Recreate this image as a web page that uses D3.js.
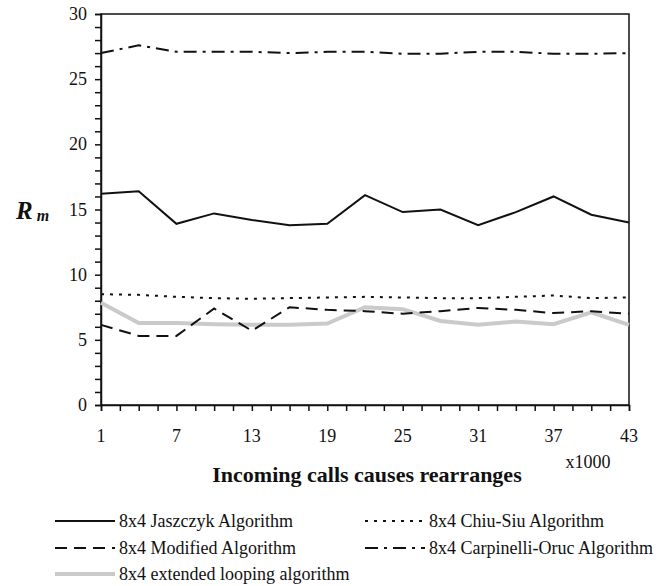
<!DOCTYPE html>
<html>
<head>
<meta charset="utf-8">
<script src="https://cdn.jsdelivr.net/npm/d3@7"></script>
<style>
  body { margin: 0; background: #fff; }
  svg text { font-family: "Liberation Serif", "Times New Roman", serif; fill: #111; }
</style>
</head>
<body>
<svg id="chart" width="662" height="586"></svg>
<script>
// data (x in thousands)
var xValues = [1, 4, 7, 10, 13, 16, 19, 22, 25, 28, 31, 34, 37, 40, 43];
var jaszczyk = [16.2, 16.4, 13.9, 14.7, 14.2, 13.8, 13.9, 16.1, 14.8, 15.0, 13.8, 14.8, 16.0, 14.6, 14.0];
var chiuSiu = [8.5, 8.45, 8.3, 8.2, 8.15, 8.2, 8.25, 8.3, 8.25, 8.2, 8.2, 8.3, 8.4, 8.2, 8.25];
var modified = [6.15, 5.3, 5.3, 7.4, 5.7, 7.5, 7.3, 7.2, 7.0, 7.2, 7.45, 7.3, 7.05, 7.2, 7.0];
var carpinelli = [27.0, 27.6, 27.1, 27.1, 27.1, 27.0, 27.1, 27.1, 26.95, 26.95, 27.1, 27.1, 26.95, 26.95, 27.0];
var extended = [7.85, 6.3, 6.3, 6.2, 6.15, 6.15, 6.25, 7.5, 7.35, 6.45, 6.15, 6.4, 6.2, 7.1, 6.15];

var xTickLabels = [1, 7, 13, 19, 25, 31, 37, 43];
var yTickLabels = [0, 5, 10, 15, 20, 25, 30];

var series = [
    { name: "8x4 Jaszczyk Algorithm", values: jaszczyk, color: "#111", width: 2, dash: null },
    { name: "8x4 Chiu-Siu Algorithm", values: chiuSiu, color: "#111", width: 2, dash: "3,6" },
    { name: "8x4 Modified Algorithm", values: modified, color: "#111", width: 2, dash: "12,7" },
    { name: "8x4 Carpinelli-Oruc Algorithm", values: carpinelli, color: "#111", width: 2, dash: "13,6,3,6" },
    { name: "8x4 extended looping algorithm", values: extended, color: "#cacaca", width: 4, dash: null }
];
// draw order: grey underneath
var drawOrder = [4, 1, 3, 2, 0];

var plotLeft = 101, plotRight = 629, plotTop = 14, plotBottom = 405;

var svg = d3.select("#chart");

var x = d3.scaleLinear().domain([1, 43]).range([plotLeft, plotRight]);
var y = d3.scaleLinear().domain([0, 30]).range([plotBottom, plotTop]);

// frame
svg.append("rect")
    .attr("x", plotLeft).attr("y", plotTop)
    .attr("width", plotRight - plotLeft).attr("height", plotBottom - plotTop)
    .attr("fill", "none").attr("stroke", "#111").attr("stroke-width", 1.5);

// y axis ticks (every unit, pointing left)
var yAxis = d3.axisLeft(y).tickValues(d3.range(0, 31, 1)).tickSize(6).tickFormat("");
svg.append("g").attr("transform", "translate(" + plotLeft + ",0)").call(yAxis)
    .call(function (g) { g.select(".domain").attr("stroke", "#111").attr("stroke-width", 1.5); })
    .call(function (g) { g.selectAll(".tick line").attr("stroke", "#111").attr("stroke-width", 1.5); });

// x axis ticks (every 1.5, pointing down)
var xAxis = d3.axisBottom(x).tickValues(d3.range(1, 43.01, 1.5)).tickSize(6).tickFormat("");
svg.append("g").attr("transform", "translate(0," + plotBottom + ")").call(xAxis)
    .call(function (g) { g.select(".domain").attr("stroke", "#111").attr("stroke-width", 1.5); })
    .call(function (g) { g.selectAll(".tick line").attr("stroke", "#111").attr("stroke-width", 1.5); });

// tick labels
svg.append("g").selectAll("text").data(yTickLabels).enter().append("text")
    .attr("text-anchor", "end")
    .attr("font-size", 18)
    .attr("x", plotLeft - 14)
    .attr("y", function (d) { return y(d) + 6; })
    .text(function (d) { return d; });

svg.append("g").selectAll("text").data(xTickLabels).enter().append("text")
    .attr("text-anchor", "middle")
    .attr("font-size", 18)
    .attr("x", function (d) { return x(d); })
    .attr("y", 442)
    .text(function (d) { return d; });

// axis titles
var rm = svg.append("text").attr("x", 16).attr("y", 219)
    .attr("font-weight", "bold").attr("font-style", "italic");
rm.append("tspan").attr("font-size", 25).text("R");
rm.append("tspan").attr("font-size", 16).attr("dx", 4).attr("dy", 2).text("m");

svg.append("text").attr("font-size", 18).attr("text-anchor", "middle")
    .attr("x", 588).attr("y", 468).text("x1000");

svg.append("text").attr("font-size", 22).attr("font-weight", "bold").attr("text-anchor", "middle")
    .attr("x", 367).attr("y", 482)
    .text("Incoming calls causes rearranges");

// lines
var line = d3.line()
    .x(function (d, i) { return x(xValues[i]); })
    .y(function (d) { return y(d); });

drawOrder.forEach(function (k) {
    var s = series[k];
    svg.append("path")
        .datum(s.values)
        .attr("d", line)
        .attr("fill", "none")
        .attr("stroke", s.color)
        .attr("stroke-width", s.width)
        .attr("stroke-dasharray", s.dash);
});

// legend
var legendPos = [
    { lx: 55, ly: 521 },
    { lx: 365, ly: 521 },
    { lx: 55, ly: 548 },
    { lx: 365, ly: 548 },
    { lx: 55, ly: 574 }
];
series.forEach(function (s, i) {
    var p = legendPos[i];
    svg.append("line")
        .attr("x1", p.lx).attr("x2", p.lx + 60)
        .attr("y1", p.ly).attr("y2", p.ly)
        .attr("stroke", s.color)
        .attr("stroke-width", s.width)
        .attr("stroke-dasharray", s.dash);
    svg.append("text").attr("font-size", 18)
        .attr("x", p.lx + 64).attr("y", p.ly + 6)
        .text(s.name);
});
</script>
</body>
</html>
